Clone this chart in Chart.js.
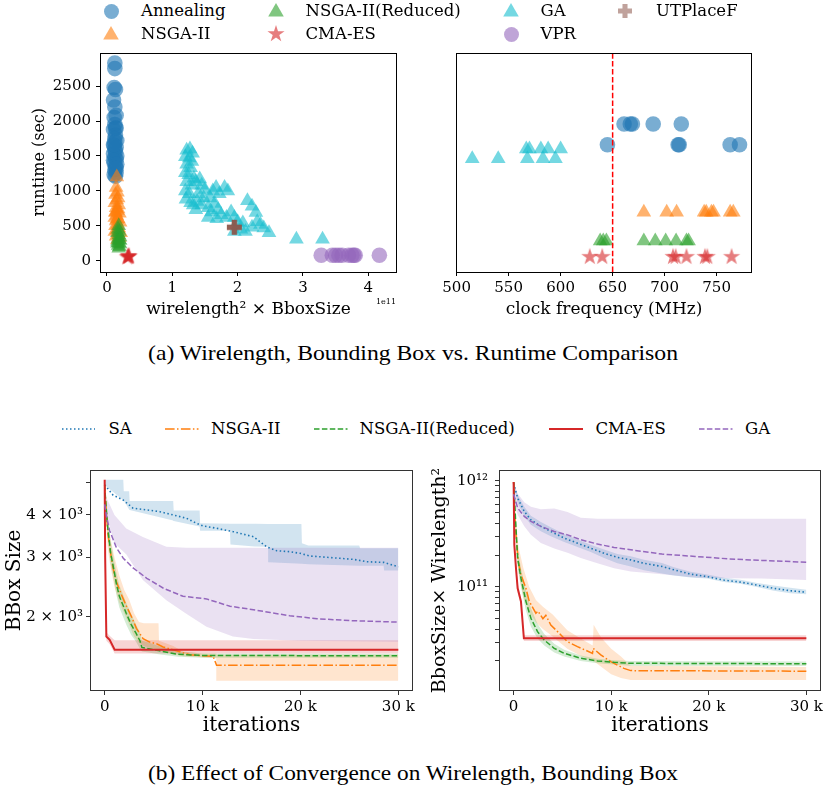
<!DOCTYPE html>
<html><head><meta charset="utf-8">
<script src="https://cdn.jsdelivr.net/npm/chart.js@4"></script>
<style>
html,body{margin:0;padding:0;background:#fff;}
body{width:826px;height:794px;position:relative;overflow:hidden;font-family:'DejaVu Serif',serif;}
canvas{position:absolute;}
.t{position:absolute;white-space:nowrap;color:#000;line-height:1;}
</style></head><body>
<canvas id="cA" width="420" height="290" style="left:0;top:44px"></canvas>
<canvas id="cB" width="400" height="290" style="left:420px;top:44px"></canvas>
<canvas id="cC" width="420" height="290" style="left:0;top:455px"></canvas>
<canvas id="cD" width="406" height="290" style="left:420px;top:455px"></canvas>
<div id="over"></div>
<script>
// ================= DATA =================
// (a) left: wirelength^2 x BboxSize (units of 1e11) vs runtime (sec)
const annealWL = [0.12,0.12,0.11,0.13,0.10,0.12,0.14,0.11,0.12,0.14,0.10,0.13,0.15,0.12,0.11,0.14,0.13,0.10,0.15,0.12,0.14,0.11,0.13,0.12,0.14,0.11,0.13,0.12,0.10,0.15,0.13,0.12,0.10,0.14];
const annealRT = [2830,2750,2480,2450,2300,2200,2080,2050,1950,1900,1880,1800,1720,1700,1650,1620,1560,1530,1500,1480,1450,1400,1350,1300,1260,1230,1210,1600,1440,1380,1900,1750,1660,1320];
const nsgaWL = [0.15,0.14,0.16,0.13,0.17,0.15,0.12,0.18,0.14,0.16,0.13,0.19,0.15,0.12,0.17,0.14,0.20,0.16,0.13,0.18,0.15,0.12,0.21,0.17,0.14,0.19,0.16,0.13,0.17,0.15];
const nsgaRT = [1200,1050,980,950,900,870,830,800,760,720,700,680,650,620,600,570,550,520,500,470,440,420,400,380,350,330,300,690,740,590];
const nsgaRedWL = [0.18,0.17,0.19,0.16,0.18,0.20,0.17,0.19,0.16,0.18,0.20,0.17,0.19,0.18,0.16,0.20];
const nsgaRedRT = [500,450,420,400,370,340,320,300,280,260,240,220,200,180,250,290];
const cmaWL = [0.32,0.33,0.34,0.31,0.33];
const cmaRT = [60,55,65,50,70];
const gaWL = [1.22,1.27,1.31,1.20,1.26,1.30,1.22,1.28,1.20,1.25,1.33,1.22,1.30,1.20,1.26,1.21,1.28,1.36,1.42,1.45,1.50,1.40,1.48,1.38,1.45,1.55,1.62,1.67,1.72,1.80,1.85,1.58,1.65,1.60,1.70,1.75,1.83,1.90,1.95,2.00,2.08,2.15,2.22,2.28,2.30,2.22,2.35,2.40,2.48,2.05,1.95,2.12,1.55,1.68,1.36,1.32,2.90,3.30];
const gaRT = [1580,1600,1540,1490,1470,1420,1380,1330,1260,1230,1180,1130,1080,1000,960,880,830,1130,1170,1080,1020,960,900,850,800,760,1000,1050,960,1050,1000,900,820,700,730,660,620,700,620,560,540,860,780,690,560,480,520,470,400,450,420,420,620,600,730,800,310,310];
const vprWL = [3.28,3.45,3.50,3.55,3.60,3.70,3.75,3.80,3.78,4.17];
const vprRT = [80,80,80,80,80,80,80,80,80,80];
const utWL = [1.95];
const utRT = [480];
const wlTicks = [0,1,2,3,4];
const rtTicks = [0,500,1000,1500,2000,2500];

// (a) right: clock frequency (MHz) vs runtime (sec)
const fAnnealMHz = [661,667,669,689,716,645,713,714,763,772];
const fAnnealRT  = [1958,1958,1958,1958,1958,1660,1660,1660,1660,1660];
const fNsgaMHz = [680,702,711.5,738,740,745,747,763,766];
const fNsgaRT  = [693,693,693,693,693,693,693,693,693];
const fNsgaRedMHz = [638,641,644,680,691,701,711,721,723];
const fNsgaRedRT  = [283,283,283,283,283,283,283,283,283];
const fCmaMHz = [628,640,708,710.6,721,738.7,741,764.4];
const fCmaRT  = [57,57,57,57,57,57,57,57];
const fGaMHz = [567,570,581,588,600,515,540,568,583,595];
const fGaRT  = [1598,1598,1598,1598,1598,1460,1460,1460,1460,1460];
const targetMHz = 650;
const freqTicks = [500,550,600,650,700,750];

// (b) left: BBox size vs iterations (k)
const saK    = [0,0.85,1.87,2.9,4.26,5.63,7.0,8.36,9.38,10.07,11.43,13.14,14.5,15.2,16.55,17.57,18.94,19.96,20.98,22.7,24.05,25.42,26.78,28.5,30];
const saBB   = [4910,4580,4430,4190,4140,4090,4000,3910,3780,3710,3653,3570,3490,3450,3220,3136,3115,3081,3025,2999,2978,2957,2910,2897,2812];
const saBandK  = [0,1.9,1.95,2.5,2.55,7.0,7.05,9.7,9.75,12.8,12.85,15.3,16.7,16.75,20.1,20.15,20.8,26,26.1,28.5,28.55,30];
const saBBUp   = [5080,5080,4700,4700,4400,4400,4120,4120,3780,3770,3770,3765,3762,3762,3760,3300,3250,3250,3190,3190,3190,3190];
const saBBLo   = [4900,4420,4410,4150,4140,3850,3840,3700,3590,3590,3270,3230,3220,2900,2870,2870,2860,2830,2830,2830,2740,2740];
const nsK    = [0,0.07,0.34,0.58,0.85,1.2,1.71,2.22,2.73,3.24,3.92,4.6,5.3,5.97,7.34,8.7,11.08,11.43,30];
const nsBB   = [4900,4500,3500,3120,2790,2540,2325,2150,2005,1850,1725,1685,1665,1630,1587,1545,1528,1440,1440];
const nsBandK = [0,0.3,0.6,1,1.5,2,2.5,3,3.5,4,5,5.5,5.55,7,8,10,11.4,11.45,30];
const nsBBUp  = [5080,4000,3400,3000,2650,2400,2250,2050,1930,1915,1915,1915,1700,1640,1580,1560,1560,1545,1545];
const nsBBLo  = [4700,3200,2800,2450,2200,2050,1900,1750,1680,1640,1610,1590,1590,1550,1530,1520,1510,1295,1295];
const nrK    = [0,0.1,0.3,0.6,1.0,1.2,1.5,2.2,2.7,3.2,3.6,3.8,4.5,5.5,7.5,10,30];
const nrBB   = [4900,4400,3700,3100,2700,2500,2300,2050,1900,1790,1700,1625,1610,1590,1550,1538,1535];
const nrBBUp = [4900,4600,3950,3350,2900,2700,2480,2200,2040,1900,1800,1700,1680,1640,1580,1560,1555];
const nrBBLo = [4900,4200,3450,2880,2500,2320,2130,1900,1770,1690,1610,1580,1570,1550,1525,1515,1515];
const cmK    = [0,0.05,0.17,0.51,1.02,30];
const cmBB   = [5080,3000,1750,1710,1600,1600];
const cmBBUp = [5080,3200,1800,1760,1706,1706];
const cmBBLo = [5080,2800,1700,1660,1560,1560];
const gK     = [0,0.2,0.5,1.2,1.9,2.9,4.3,6,8,10.4,12.8,15.2,16.9,18.9,21.7,25.1,30];
const gBB    = [4300,3950,3600,3200,2980,2790,2600,2430,2300,2260,2150,2100,2060,2015,1975,1950,1930];
const gBandK = [0,0.5,1.0,2.2,3.9,6.3,8.3,10.4,13.1,15.2,20,30];
const gBBUp  = [4600,4300,4000,3650,3440,3220,3200,3200,3200,3200,3200,3200];
const gBBLo  = [4300,3700,3300,3060,2570,2240,2046,1870,1750,1720,1700,1690];
const bbTicks = [2000,3000,4000,5000];
const iterTicks = [0,10,20,30];

// (b) right: BboxSize x Wirelength^2 vs iterations (k)
const saK2   = [0,0.41,1.09,1.77,2.79,3.81,5.18,6.54,7.9,9.27,10.63,12.0,13.36,15.2,16.43,18.13,19.84,21.54,23.24,24.95,26.66,28.35,30];
const saWB   = [9.5e11,6.9e11,5.16e11,4.3e11,3.73e11,3.34e11,2.89e11,2.59e11,2.32e11,2.08e11,1.9e11,1.8e11,1.67e11,1.56e11,1.45e11,1.32e11,1.25e11,1.16e11,1.11e11,1.04e11,9.7e10,9.2e10,8.9e10];
const saWBUp = [9.5e11,7.4e11,5.7e11,4.7e11,4.1e11,3.65e11,3.15e11,2.8e11,2.5e11,2.25e11,2.05e11,1.95e11,1.8e11,1.68e11,1.53e11,1.39e11,1.31e11,1.22e11,1.17e11,1.09e11,1.03e11,9.8e10,9.4e10];
const saWBLo = [9.5e11,6.2e11,4.65e11,3.87e11,3.36e11,3.0e11,2.66e11,2.38e11,2.13e11,1.87e11,1.67e11,1.56e11,1.44e11,1.34e11,1.28e11,1.23e11,1.2e11,1.11e11,1.07e11,1.0e11,9.2e10,8.7e10,8.5e10];
const nsK2   = [0,0.1,0.24,0.48,0.75,1.26,1.6,2.28,2.5,3.0,3.3,3.81,4.5,5.52,6.54,8.08,8.15,8.93,9.95,11.3,12.0,30];
const nsWB   = [9.8e11,5e11,3.1e11,1.74e11,1.3e11,9.7e10,7.3e10,5.64e10,5.9e10,5.0e10,5.4e10,4.37e10,3.78e10,3.04e10,2.73e10,2.36e10,2.63e10,2.28e10,1.97e10,1.7e10,1.62e10,1.6e10];
const nsBandK2 = [0,0.24,0.5,1.0,1.6,2.3,3,4,5.5,7,8.1,8.2,9,10,11,12,30];
const nsWBUp = [9.8e11,4.2e11,2.4e11,1.5e11,1.0e11,7.5e10,6.5e10,5.5e10,3.9e10,3.2e10,2.8e10,4.4e10,3.3e10,2.6e10,2.2e10,1.8e10,1.75e10];
const nsWBLo = [9.8e11,2.3e11,1.35e11,8e10,5.8e10,4.6e10,4.0e10,3.4e10,2.6e10,2.2e10,2.0e10,2.0e10,1.75e10,1.5e10,1.38e10,1.32e10,1.32e10];
const nrK2   = [0,0.24,0.41,0.75,1.26,1.77,2.45,3.14,4.16,5.18,6.88,8.59,10.3,12.0,30];
const nrWB   = [9.8e11,3.6e11,1.87e11,1.21e11,7.3e10,5.06e10,3.78e10,3.15e10,2.63e10,2.36e10,2.12e10,2.0e10,1.94e10,1.9e10,1.88e10];
const nrWBUp = [9.8e11,4.2e11,2.3e11,1.5e11,9.3e10,6.3e10,4.5e10,3.6e10,2.9e10,2.55e10,2.25e10,2.1e10,2.03e10,2.0e10,1.98e10];
const nrWBLo = [9.8e11,3.0e11,1.55e11,1.0e11,6.0e10,4.2e10,3.25e10,2.8e10,2.4e10,2.2e10,2.0e10,1.9e10,1.85e10,1.8e10,1.79e10];
const cmK2   = [0,0.07,0.24,0.41,0.75,1.05,30];
const cmWB   = [9.8e11,2.5e11,1.5e11,9.7e10,7.3e10,3.27e10,3.27e10];
const cmWBUp = [9.8e11,2.8e11,1.7e11,1.08e11,8.0e10,3.5e10,3.5e10];
const cmWBLo = [9.8e11,2.2e11,1.35e11,8.8e10,6.6e10,3.08e10,3.08e10];
const gK2    = [0,0.41,1.09,1.77,2.79,4.16,5.52,6.88,8.59,10.3,12.0,15.2,18.6,22.0,25.4,30];
const gWB    = [7.5e11,5.56e11,4.63e11,4.16e11,3.73e11,3.34e11,3.1e11,2.79e11,2.54e11,2.36e11,2.24e11,2.04e11,1.94e11,1.84e11,1.78e11,1.71e11];
const gWBUp  = [9.5e11,7.6e11,6.3e11,5.7e11,5.4e11,5.5e11,5.1e11,4.5e11,4.4e11,4.4e11,4.4e11,4.4e11,4.4e11,4.4e11,4.4e11,4.4e11];
const gWBLo  = [6.5e11,4.8e11,3.73e11,3.1e11,2.6e11,2.3e11,2.1e11,1.87e11,1.67e11,1.5e11,1.4e11,1.32e11,1.23e11,1.21e11,1.2e11,1.16e11];
const wbTicks = [2e10,3e10,4e10,5e10,6e10,7e10,8e10,9e10,1e11,2e11,3e11,4e11,5e11,6e11,7e11,8e11,9e11,1e12];

// ================= HELPERS =================
const FONT = "'DejaVu Serif'";
Chart.defaults.font.family = FONT;
Chart.defaults.color = '#000';
const C = {blue:'#1f77b4', orange:'#ff7f0e', green:'#2ca02c', red:'#d62728', purple:'#9467bd', brown:'#8c564b', cyan:'#17becf'};
function rgba(hex,a){const n=parseInt(hex.slice(1),16);return `rgba(${n>>16},${(n>>8)&255},${n&255},${a})`;}
const pts = (xs,ys)=>xs.map((x,i)=>({x, y:ys[i]}));

function shapePath(ctx, shape, cx, cy, s){
  ctx.beginPath();
  if(shape==='circle'){ ctx.arc(cx,cy,s,0,Math.PI*2); }
  else if(shape==='triangle'){ ctx.moveTo(cx,cy-s); ctx.lineTo(cx+s*0.866,cy+s*0.5); ctx.lineTo(cx-s*0.866,cy+s*0.5); ctx.closePath(); }
  else if(shape==='star'){ const ri=s*0.382; for(let i=0;i<10;i++){const r=i%2?ri:s; const a=-Math.PI/2+i*Math.PI/5; const px=cx+r*Math.cos(a), py=cy+r*Math.sin(a); i?ctx.lineTo(px,py):ctx.moveTo(px,py);} ctx.closePath(); }
  else if(shape==='plus'){ const w=s*0.36;
    ctx.moveTo(cx-w,cy-s); ctx.lineTo(cx+w,cy-s); ctx.lineTo(cx+w,cy-w); ctx.lineTo(cx+s,cy-w); ctx.lineTo(cx+s,cy+w); ctx.lineTo(cx+w,cy+w);
    ctx.lineTo(cx+w,cy+s); ctx.lineTo(cx-w,cy+s); ctx.lineTo(cx-w,cy+w); ctx.lineTo(cx-s,cy+w); ctx.lineTo(cx-s,cy-w); ctx.lineTo(cx-w,cy-w); ctx.closePath(); }
}
function markerCanvas(shape, color, s){
  const cv=document.createElement('canvas'); const d=Math.ceil(2*s+2); cv.width=d; cv.height=d;
  const ctx=cv.getContext('2d'); ctx.fillStyle=color;
  shapePath(ctx, shape, d/2, d/2, s); ctx.fill(); return cv;
}
const STAR = markerCanvas('star', rgba(C.red,0.6), 9);
const PLUS = markerCanvas('plus', rgba(C.brown,0.95), 7.5);

function scat(label, xs, ys, color, style, r, order){
  return {type:'scatter', label, data:pts(xs,ys), backgroundColor:color, borderColor:color, borderWidth:0, pointStyle:style, pointRadius:r, order};
}
function line(xs, ys, color, dash, w, order){
  return {type:'line', data:pts(xs,ys), borderColor:color, borderWidth:w, borderDash:dash, pointRadius:0, fill:false, tension:0, order, borderCapStyle:'butt'};
}
function band(xs, up, lo, color, order){
  return [
    {type:'line', data:pts(xs,up), borderColor:'transparent', borderWidth:1, backgroundColor:rgba(color,0.2), fill:'+1', pointRadius:0, tension:0, order},
    {type:'line', data:pts(xs,lo), borderColor:'transparent', borderWidth:1, backgroundColor:'transparent', fill:false, pointRadius:0, tension:0, order}
  ];
}
const frame = (color)=>({id:'frame', afterDraw(chart){const {ctx, chartArea:a}=chart; ctx.save(); ctx.strokeStyle=color; ctx.lineWidth=1; ctx.strokeRect(Math.round(a.left)+0.5, Math.round(a.top)+0.5, Math.round(a.right-a.left)-1, Math.round(a.bottom-a.top)-1); ctx.restore();}});
const fixX = h => s => { s.height=h; s.paddingLeft=0; s.paddingRight=0; };
const fixY = w => s => { s.width=w; s.paddingTop=0; s.paddingBottom=0; };
const setTicks = arr => s => { s.ticks = arr.map(v=>({value:v})); };
function grid(col){ return {display:true, drawOnChartArea:false, drawTicks:true, tickLength:4, tickColor:col, tickWidth:1}; }
const baseOpts = {responsive:false, animation:false, devicePixelRatio:1, events:[], plugins:{legend:{display:false}, tooltip:{enabled:false}}};

// ================= CHART A =================
new Chart(document.getElementById('cA'), {
  type:'scatter',
  data:{datasets:[
    scat('Annealing', annealWL, annealRT, rgba(C.blue,0.6), 'circle', 7.8, 6),
    scat('NSGA-II', nsgaWL, nsgaRT, rgba(C.orange,0.6), 'triangle', 8.5, 5),
    scat('NSGA-II(Reduced)', nsgaRedWL, nsgaRedRT, rgba(C.green,0.6), 'triangle', 8.5, 4),
    scat('CMA-ES', cmaWL, cmaRT, rgba(C.red,0.6), STAR, 8, 3),
    scat('GA', gaWL, gaRT, rgba(C.cyan,0.6), 'triangle', 8.5, 2),
    scat('VPR', vprWL, vprRT, rgba(C.purple,0.6), 'circle', 7.8, 1),
    scat('UTPlaceF', utWL, utRT, rgba(C.brown,0.95), PLUS, 8, 0)
  ]},
  options:{...baseOpts,
    layout:{padding:{left:30, top:6, right:23, bottom:0}},
    scales:{
      x:{type:'linear', min:-0.107, max:4.44, afterBuildTicks:setTicks(wlTicks), afterFit:fixX(62),
         grid:grid('#000'), border:{display:false},
         ticks:{font:{size:15}, padding:3, maxRotation:0, autoSkip:false, callback:v=>String(v)},
         title:{display:true, text:'wirelength² × BboxSize', font:{size:17}, padding:{top:0,bottom:14}}},
      y:{type:'linear', min:-160, max:2980, afterBuildTicks:setTicks(rtTicks), afterFit:fixY(70),
         grid:grid('#000'), border:{display:false},
         ticks:{font:{size:15}, padding:5, autoSkip:false, callback:v=>String(v)},
         title:{display:true, text:'runtime (sec)', font:{size:16}, padding:{top:0,bottom:0}}}
    }},
  plugins:[frame('#000')]
});

// ================= CHART B =================
new Chart(document.getElementById('cB'), {
  type:'scatter',
  data:{datasets:[
    scat('Annealing', fAnnealMHz, fAnnealRT, rgba(C.blue,0.6), 'circle', 7.8, 6),
    scat('NSGA-II', fNsgaMHz, fNsgaRT, rgba(C.orange,0.6), 'triangle', 8.5, 5),
    scat('NSGA-II(Reduced)', fNsgaRedMHz, fNsgaRedRT, rgba(C.green,0.6), 'triangle', 8.5, 4),
    scat('CMA-ES', fCmaMHz, fCmaRT, rgba(C.red,0.6), STAR, 8, 3),
    scat('GA', fGaMHz, fGaRT, rgba(C.cyan,0.6), 'triangle', 8.5, 2),
    {type:'line', data:pts([targetMHz,targetMHz],[-160,2980]), borderColor:'#ff0000', borderWidth:1.5, borderDash:[5.5,2.4], pointRadius:0, fill:false, order:-1}
  ]},
  options:{...baseOpts,
    layout:{padding:{left:36, top:6, right:68, bottom:0}},
    scales:{
      x:{type:'linear', min:499.4, max:784, afterBuildTicks:setTicks(freqTicks), afterFit:fixX(62),
         grid:grid('#000'), border:{display:false},
         ticks:{font:{size:15}, padding:3, maxRotation:0, autoSkip:false, callback:v=>String(v)},
         title:{display:true, text:'clock frequency (MHz)', font:{size:17}, padding:{top:0,bottom:14}}},
      y:{type:'linear', min:-160, max:2980, display:false}
    }},
  plugins:[frame('#000')]
});

// ================= CHART C =================
const kLabel = v => v===0 ? '0' : v+' k';
new Chart(document.getElementById('cC'), {
  type:'line',
  data:{datasets:[
    line(saK, saBB, C.blue, [1.5,2.5], 1.6, 4),
    line(nsK, nsBB, C.orange, [9.6,2.4,1.5,2.4], 1.5, 3),
    line(nrK, nrBB, C.green, [5.5,2.4], 1.5, 2),
    line(cmK, cmBB, C.red, [], 2, 1),
    line(gK, gBB, C.purple, [5.5,2.4], 1.5, 0),
    ...band(saBandK, saBBUp, saBBLo, C.blue, 14),
    ...band(nsBandK, nsBBUp, nsBBLo, C.orange, 13),
    ...band(nrK, nrBBUp, nrBBLo, C.green, 12),
    ...band(cmK, cmBBUp, cmBBLo, C.red, 11),
    ...band(gBandK, gBBUp, gBBLo, C.purple, 10)
  ]},
  options:{...baseOpts,
    layout:{padding:{left:3, top:15, right:7, bottom:0}},
    scales:{
      x:{type:'linear', min:-1.5, max:31.5, afterBuildTicks:setTicks(iterTicks), afterFit:fixX(54),
         grid:grid('#333'), border:{display:false},
         ticks:{font:{size:15}, padding:3, maxRotation:0, autoSkip:false, callback:kLabel},
         title:{display:true, text:'iterations', font:{size:20}, padding:{top:0,bottom:7}}},
      y:{type:'logarithmic', min:1208, max:5430, afterBuildTicks:setTicks(bbTicks), afterFit:fixY(87),
         grid:grid('#333'), border:{display:false},
         ticks:{font:{size:15}, padding:3, autoSkip:false, callback:v=>({2000:'2 × 10³',3000:'3 × 10³',4000:'4 × 10³'})[v]||''},
         title:{display:true, text:'BBox Size', font:{size:20}, padding:{top:0,bottom:0}}}
    }},
  plugins:[frame('#333')]
});

// ================= CHART D =================
new Chart(document.getElementById('cD'), {
  type:'line',
  data:{datasets:[
    line(saK2, saWB, C.blue, [1.5,2.5], 1.6, 4),
    line(nsK2, nsWB, C.orange, [9.6,2.4,1.5,2.4], 1.5, 3),
    line(nrK2, nrWB, C.green, [5.5,2.4], 1.5, 2),
    line(cmK2, cmWB, C.red, [], 2, 1),
    line(gK2, gWB, C.purple, [5.5,2.4], 1.5, 0),
    ...band(saK2, saWBUp, saWBLo, C.blue, 14),
    ...band(nsBandK2, nsWBUp, nsWBLo, C.orange, 13),
    ...band(nrK2, nrWBUp, nrWBLo, C.green, 12),
    ...band(cmK2, cmWBUp, cmWBLo, C.red, 11),
    ...band(gK2, gWBUp, gWBLo, C.purple, 10)
  ]},
  options:{...baseOpts,
    layout:{padding:{left:9, top:15, right:5, bottom:0}},
    scales:{
      x:{type:'linear', min:-1.5, max:31.5, afterBuildTicks:setTicks(iterTicks), afterFit:fixX(54),
         grid:grid('#333'), border:{display:false},
         ticks:{font:{size:15}, padding:3, maxRotation:0, autoSkip:false, callback:kLabel},
         title:{display:true, text:'iterations', font:{size:20}, padding:{top:0,bottom:7}}},
      y:{type:'logarithmic', min:1.04e10, max:1.27e12, afterBuildTicks:setTicks(wbTicks), afterFit:fixY(70),
         grid:grid('#333'), border:{display:false},
         ticks:{font:{size:15}, padding:7, autoSkip:false, callback:v=> v===1e11?'10¹¹':(v===1e12?'10¹²':'')},
         title:{display:true, text:'BboxSize× Wirelength²', font:{size:19}, padding:{top:0,bottom:0}}}
    }},
  plugins:[frame('#333')]
});

// ================= LEGENDS / CAPTIONS (HTML) =================
const over = document.getElementById('over');
function addText(txt, x, y, size, opts={}){
  const d=document.createElement('div'); d.className='t'; d.textContent=txt;
  d.style.left=x+'px'; d.style.top=y+'px'; d.style.fontSize=size+'px';
  if(opts.family) d.style.fontFamily=opts.family;
  d.style.transform = opts.center ? 'translate(-50%,-50%)' : (opts.right ? 'translate(-100%,-50%)' : 'translateY(-50%)');
  over.appendChild(d); return d;
}
function addMarker(shape, color, cx, cy, s){
  const cv = markerCanvas(shape, color, s); cv.style.left=(cx-cv.width/2)+'px'; cv.style.top=(cy-cv.height/2)+'px'; over.appendChild(cv);
}
const topLegend = [
  ['Annealing','circle',C.blue,111,141,11,7.5],
  ['NSGA-II','triangle',C.orange,111,141,34,9],
  ['NSGA-II(Reduced)','triangle',C.green,276,305.5,11,9],
  ['CMA-ES','star',C.red,276,305.5,34,9],
  ['GA','triangle',C.cyan,511,540.5,11,9],
  ['VPR','circle',C.purple,511,540.5,34,7.5],
  ['UTPlaceF','plus',C.brown,625,656,11,7]
];
topLegend.forEach(([lab,shape,col,mx,tx,y,s])=>{ addMarker(shape, rgba(col, shape==='plus'?0.55:0.6), mx, y+(shape==='triangle'?1:0), s); addText(lab, tx, y, 16.5); });

const botLegend = [
  ['SA',C.blue,[1.5,2.5],62,95,108.5],
  ['NSGA-II',C.orange,[9.6,2.4,1.5,2.4],164.5,198,211],
  ['NSGA-II(Reduced)',C.green,[5.5,2.4],313.5,347,359.5],
  ['CMA-ES',C.red,[],548.5,582.5,595.5],
  ['GA',C.purple,[5.5,2.4],698.5,732,745]
];
botLegend.forEach(([lab,col,dash,x0,x1,tx])=>{
  const cv=document.createElement('canvas'); cv.width=Math.ceil(x1-x0)+2; cv.height=6; cv.style.left=x0+'px'; cv.style.top=(428.5-3)+'px';
  const ctx=cv.getContext('2d'); ctx.strokeStyle=col; ctx.lineWidth=lab==='CMA-ES'?2:1.5; ctx.setLineDash(dash); ctx.beginPath(); ctx.moveTo(0,3); ctx.lineTo(x1-x0,3); ctx.stroke();
  over.appendChild(cv); addText(lab, tx, 428.5, 16.5);
});

addText('1e11', 396, 302, 8, {right:true});

function caption(txt, y){
  const d = addText(txt, 413, y, 21, {family:"'Liberation Serif', serif", center:true});
  const w = d.getBoundingClientRect().width; const sx = 530 / w;
  d.style.transform = `translate(-50%,-50%) scaleX(${sx})`;
}
caption('(a) Wirelength, Bounding Box vs. Runtime Comparison', 353);
caption('(b) Effect of Convergence on Wirelength, Bounding Box', 773);
</script>
</body></html>
